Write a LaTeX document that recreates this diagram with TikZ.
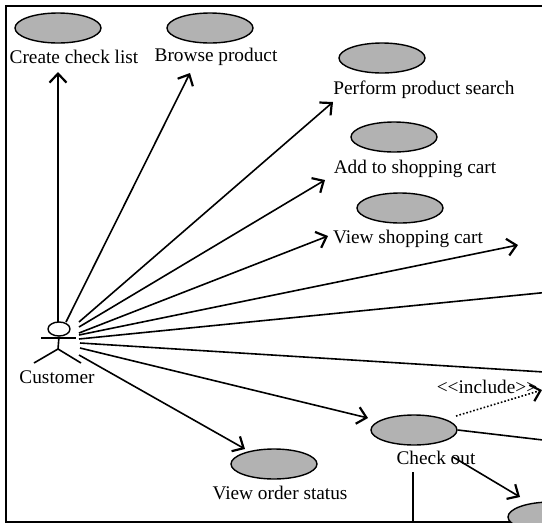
\documentclass[tikz,border=0pt]{standalone}
\usepackage{fontspec}
\setmainfont{Liberation Serif}
\usetikzlibrary{shapes.geometric,arrows.meta}
\definecolor{usecasecolor}{RGB}{178,178,178}
\tikzset{
    usecase/.style={ellipse, draw, line width=1.4pt, fill=usecasecolor, minimum width=86pt, minimum height=30pt, inner sep=0pt},
    caption/.style={font=\fontsize{19.3}{22}\selectfont, inner sep=0pt, text depth=0pt},
    assoc/.style={line width=1.6pt, -{Straight Barb[length=9pt,width=17pt,line width=2.2pt]}},
    plain/.style={line width=1.6pt}
}

\begin{document}
\begin{tikzpicture}[x=1pt,y=-1pt]
    \useasboundingbox (0,0) rectangle (542,523);
    \clip (0,0) rectangle (542,523);

    % Frame
    \draw[line width=1.6pt] (600,6) -- (6,6) -- (6,522) -- (600,522);

    % Use cases
    \foreach \name/\x/\y in {create/58/28, browse/210/28, search/382/58, addcart/394/137, viewcart/400/208, status/274/464, checkout/414/430, payment/551/517}
        \node[usecase] (\name) at (\x,\y) {};

    % Use case labels
    \node[caption] (createlabel) at (74,57) {Create check list};
    \node[caption] (browselabel) at (216,55) {Browse product};
    \node[caption] (searchlabel) at (424,88) {Perform product search};
    \node[caption] (addcartlabel) at (415,167) {Add to shopping cart};
    \node[caption] (viewcartlabel) at (408,237) {View shopping cart};
    \node[caption] (statuslabel) at (280,493) {View order status};
    \node[caption] (checkoutlabel) at (436,458) {Check out};
    \node[caption] (includelabel) at (487,387) {<{}<include>{}>};

    % Actor
    \node[ellipse, draw, line width=1.4pt, minimum width=22pt, minimum height=14pt, inner sep=0pt] (head) at (59,329) {};
    \coordinate (hip) at (58,349);
    \coordinate (armleft) at (41,338);
    \coordinate (armright) at (76,338);
    \coordinate (legleft) at (34,363);
    \coordinate (legright) at (81,363);
    \draw[plain] (head.south) -- (hip) -- (legleft);
    \draw[plain] (hip) -- (legright);
    \draw[plain] (armleft) -- (armright);
    \node[caption] (customer) at (57,377) {Customer};

    % Free ends of the arrows
    \foreach \name/\x/\y in {s1/58/322, e1/58/72, s2/66/322, e2/190/73, s3/79/322, e3/333/102,
        s4/79/327, e4/325/180, s5/79/333, e5/328/236, s6/79/335, e6/518/245,
        s7/79/339, e7/560/291, s8/80/343, e8/560/373, s9/80/348, e9/368/418,
        s10/79/355, e10/245/449}
        \coordinate (\name) at (\x,\y);

    % Customer associations
    \foreach \i in {1,2,3,4,5,6,9,10}
        \draw[assoc] (s\i) -- (e\i);
    \foreach \i in {7,8}
        \draw[plain] (s\i) -- (e\i);

    % Check out links
    \coordinate (includestart) at (456,416);
    \coordinate (includeend) at (542,390);
    \coordinate (linkright) at (560,442);
    \coordinate (paystart) at (453,457);
    \coordinate (payend) at (520,497);
    \coordinate (stemtop) at (413,472);
    \coordinate (stembottom) at (413,521);
    \draw[line width=1.6pt, dotted, -{Straight Barb[length=9pt,width=17pt,line width=2.2pt]}] (includestart) -- (includeend);
    \draw[plain] (checkout.east) -- (linkright);
    \draw[assoc] (paystart) -- (payend);
    \draw[plain] (stemtop) -- (stembottom);
\end{tikzpicture}
\end{document}
